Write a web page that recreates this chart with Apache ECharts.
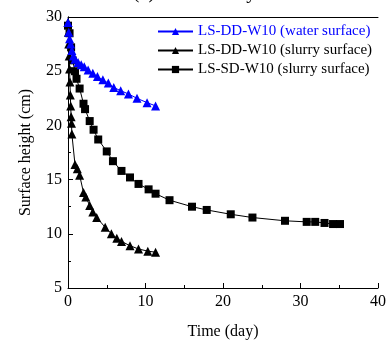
<!DOCTYPE html>
<html>
<head>
<meta charset="utf-8">
<script src="https://cdn.jsdelivr.net/npm/echarts@6/dist/echarts.min.js"></script>
<style>
  html, body { margin: 0; padding: 0; background: #fff; }
  #chart { width: 389px; height: 345px; }
</style>
</head>
<body>
<div id="chart"></div>
<script>
// LS-DD-W10 water surface, [day, cm]
const waterDD = [
  [0, 29.5], [0.1, 28.6], [0.2, 28.0], [0.35, 27.5], [0.5, 26.9], [0.7, 26.4],
  [0.9, 26.1], [1.3, 25.8], [1.7, 25.6], [2.1, 25.4], [2.6, 25.1], [3.2, 24.8],
  [3.8, 24.5], [4.5, 24.2], [5.2, 23.9], [5.9, 23.5], [6.8, 23.2], [7.8, 22.9],
  [8.9, 22.5], [10.2, 22.1], [11.3, 21.8]
];
// LS-DD-W10 slurry surface
const slurryDD = [
  [0, 29.5], [0.05, 28.6], [0.1, 27.5], [0.15, 26.4], [0.2, 25.2], [0.25, 24.0],
  [0.3, 22.8], [0.35, 21.8], [0.4, 20.8], [0.45, 20.2], [0.5, 19.2], [0.9, 16.4],
  [1.2, 16.0], [1.5, 15.4], [2.0, 13.8], [2.3, 13.4], [2.8, 12.6], [3.2, 12.0],
  [3.7, 11.5], [4.8, 10.6], [5.6, 10.0], [6.3, 9.6], [6.9, 9.3], [8.0, 8.9],
  [9.1, 8.6], [10.3, 8.4], [11.3, 8.3]
];
// LS-SD-W10 slurry surface
const slurrySD = [
  [0, 29.2], [0.2, 28.5], [0.4, 27.2], [0.6, 26.0], [0.9, 25.0], [1.1, 24.3],
  [1.5, 23.4], [2.0, 22.0], [2.2, 21.5], [2.8, 20.4], [3.3, 19.6], [3.9, 18.7],
  [5.0, 17.6], [5.8, 16.7], [6.9, 15.8], [8.0, 15.2], [9.1, 14.6], [10.4, 14.1],
  [11.3, 13.7], [13.1, 13.1], [16.0, 12.5], [17.9, 12.2], [21.0, 11.8],
  [23.8, 11.5], [28.0, 11.2], [30.8, 11.1], [31.9, 11.1], [33.1, 11.0],
  [34.2, 10.9], [35.1, 10.9]
];

const names = [
  "LS-DD-W10 (water surface)",
  "LS-DD-W10 (slurry surface)",
  "LS-SD-W10 (slurry surface)"
];

const font = "'Liberation Serif', 'Times New Roman', serif";
const chart = echarts.init(document.getElementById("chart"));

const axisCommon = {
  axisLine: { show: true, onZero: false, lineStyle: { color: "#000", width: 1 } },
  axisTick: { inside: true, length: 5, lineStyle: { color: "#000" } },
  minorTick: { show: true, splitNumber: 2, length: 3, lineStyle: { color: "#000" } },
  axisLabel: { color: "#000", fontFamily: font, fontSize: 16 },
  splitLine: { show: false },
  nameTextStyle: { color: "#000", fontFamily: font, fontSize: 16 }
};

function series(name, data, color, symbol, size) {
  return {
    name, type: "line", data,
    symbol, symbolSize: size,
    showAllSymbol: true,
    lineStyle: { color, width: 1 },
    itemStyle: { color },
    animation: false
  };
}

chart.setOption({
  animation: false,
  backgroundColor: "#fff",
  grid: { left: 68, right: 11, top: 17, bottom: 53, show: false },
  graphic: [{
    type: "text", left: "center", top: -17,
    style: { text: "(c) water slurry", font: "20px " + font, fill: "#000" }
  }],
  legend: {
    orient: "vertical", left: 152, top: 19,
    itemWidth: 35, itemHeight: 9, itemGap: 4,
    textStyle: { fontFamily: font, fontSize: 15, color: "#000" },
    data: [
      { name: names[0], textStyle: { color: "#0000ff" } },
      { name: names[1] },
      { name: names[2] }
    ]
  },
  xAxis: [{
    ...axisCommon,
    type: "value", min: 0, max: 40, interval: 10,
    name: "Time (day)", nameLocation: "middle", nameGap: 36,
    axisLabel: { ...axisCommon.axisLabel, margin: 6 }
  }, {
    type: "value", min: 0, max: 40, position: "top",
    axisLine: { show: true, lineStyle: { color: "#000" } },
    axisTick: { show: false }, axisLabel: { show: false }, splitLine: { show: false }
  }],
  yAxis: [{
    ...axisCommon,
    type: "value", min: 5, max: 30, interval: 5,
    name: "Surface height (cm)", nameLocation: "middle", nameGap: 34,
    axisLabel: { ...axisCommon.axisLabel, margin: 6 }
  }, {
    type: "value", min: 5, max: 30, position: "right",
    axisLine: { show: true, lineStyle: { color: "#000" } },
    axisTick: { show: false }, axisLabel: { show: false }, splitLine: { show: false }
  }],
  series: [
    series(names[2], slurrySD, "#000", "rect", 8),
    series(names[1], slurryDD, "#000", "triangle", 9),
    series(names[0], waterDD, "#0000ff", "triangle", 9)
  ]
});
</script>
</body>
</html>
